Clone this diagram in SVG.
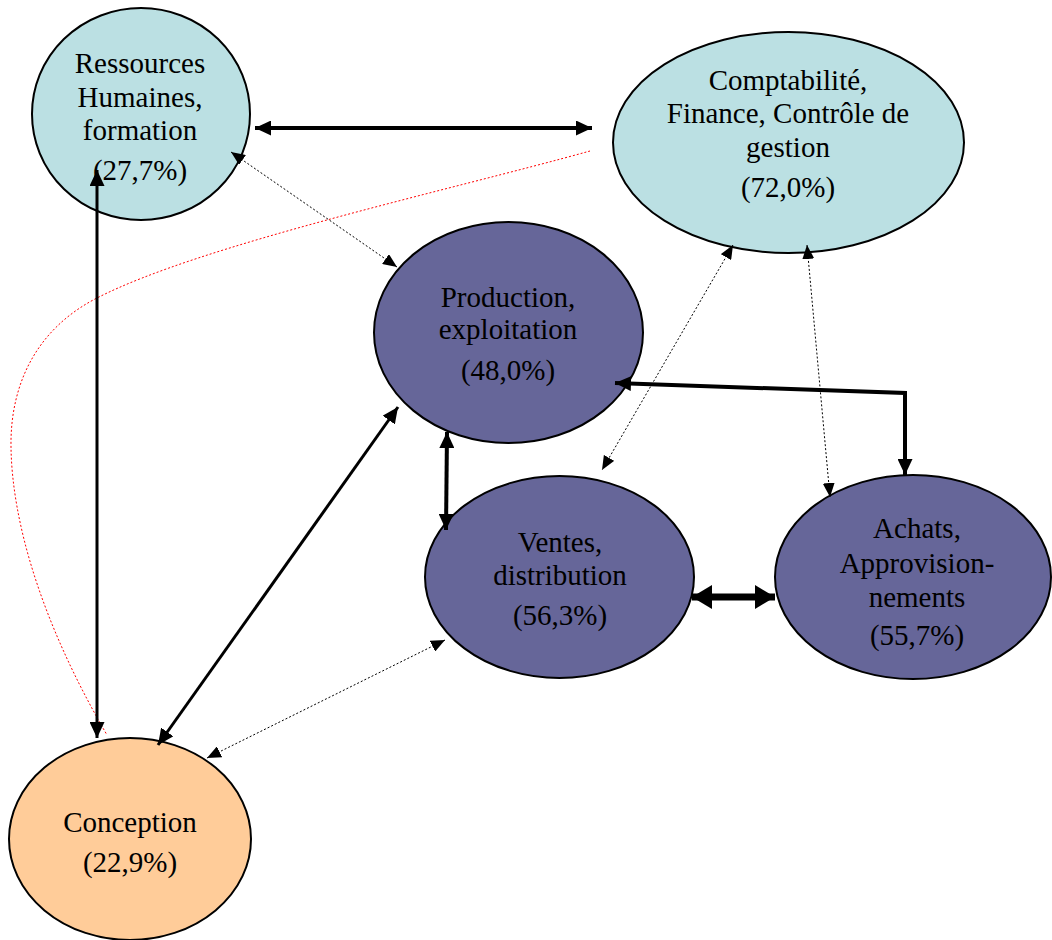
<svg xmlns="http://www.w3.org/2000/svg" width="1052" height="940" viewBox="0 0 1052 940">
<style>
.node{stroke:#000;stroke-width:2}
.cyan{fill:#BBE0E3}
.purple{fill:#666699}
.orange{fill:#FFCC99}
text{font-family:"Liberation Serif","Times New Roman",serif;font-size:29px;fill:#000;text-anchor:middle}
.c{fill:none;stroke:#000}
.dot{stroke-width:1;stroke-dasharray:2 2}
.red{fill:none;stroke:#FF0000;stroke-width:1;stroke-dasharray:2 2}
</style>
<defs>
<marker id="aS" viewBox="0 0 14 12" markerWidth="14" markerHeight="12" refX="14" refY="6" markerUnits="userSpaceOnUse" orient="auto-start-reverse"><path d="M0,0 L14,6 L0,12 z" fill="#000"/></marker>
<marker id="aM" viewBox="0 0 16 15" markerWidth="16" markerHeight="15" refX="16" refY="7.5" markerUnits="userSpaceOnUse" orient="auto-start-reverse"><path d="M0,0 L16,7.5 L0,15 z" fill="#000"/></marker>
<marker id="aL" viewBox="0 0 20 24" markerWidth="20" markerHeight="24" refX="20" refY="12" markerUnits="userSpaceOnUse" orient="auto-start-reverse"><path d="M0,0 L20,12 L0,24 z" fill="#000"/></marker>
</defs>
<g id="rh">
<ellipse class="node cyan" cx="141" cy="114" rx="109" ry="106"/>
<text x="140" y="73">Ressources</text>
<text x="140" y="107">Humaines,</text>
<text x="140" y="140">formation</text>
<text x="140" y="180">(27,7%)</text>
</g>
<g id="compta">
<ellipse class="node cyan" cx="788.5" cy="142.5" rx="175.5" ry="110.5"/>
<text x="788" y="90">Comptabilité,</text>
<text x="788" y="123">Finance, Contrôle de</text>
<text x="788" y="157">gestion</text>
<text x="788" y="197">(72,0%)</text>
</g>
<g id="production">
<ellipse class="node purple" cx="508.5" cy="332.5" rx="134.5" ry="110.5"/>
<text x="508" y="307">Production,</text>
<text x="508" y="339">exploitation</text>
<text x="508" y="380">(48,0%)</text>
</g>
<g id="ventes">
<ellipse class="node purple" cx="559.5" cy="577" rx="134.5" ry="101"/>
<text x="560" y="552">Ventes,</text>
<text x="560" y="585">distribution</text>
<text x="560" y="625">(56,3%)</text>
</g>
<g id="achats">
<ellipse class="node purple" cx="913" cy="577" rx="138" ry="102"/>
<text x="917" y="538">Achats,</text>
<text x="917" y="573">Approvision-</text>
<text x="917" y="607">nements</text>
<text x="917" y="645">(55,7%)</text>
</g>
<g id="conception">
<ellipse class="node orange" cx="130" cy="839" rx="121" ry="101"/>
<text x="130" y="832">Conception</text>
<text x="130" y="872">(22,9%)</text>
</g>
<g id="connectors">
<path class="red" d="M590,151 C450,190 200,245 97,298 C40,327 10,380 11,447 C12,520 40,620 107,735"/>
<path class="c" stroke-width="4" d="M255,128 L592,128" marker-start="url(#aM)" marker-end="url(#aM)"/>
<path class="c" stroke-width="3" d="M97,170 L97,738" marker-start="url(#aM)" marker-end="url(#aM)"/>
<path class="c dot" d="M231,152 L397,267" marker-start="url(#aS)" marker-end="url(#aS)"/>
<path class="c dot" d="M733,245 L602,470" marker-start="url(#aS)" marker-end="url(#aS)"/>
<path class="c dot" d="M807,245 L830,497" marker-start="url(#aS)" marker-end="url(#aS)"/>
<path class="c" stroke-width="4" d="M615,383 L905,393 L905,475" marker-start="url(#aM)" marker-end="url(#aM)"/>
<path class="c" stroke-width="4" d="M447,432 L446,530" marker-start="url(#aM)" marker-end="url(#aM)"/>
<path class="c" stroke-width="7" d="M692,597 L775,597" marker-start="url(#aL)" marker-end="url(#aL)"/>
<path class="c" stroke-width="3" d="M398,407 L158,745" marker-start="url(#aM)" marker-end="url(#aM)"/>
<path class="c dot" d="M445,640 L207,758" marker-start="url(#aS)" marker-end="url(#aS)"/>
</g>
</svg>
